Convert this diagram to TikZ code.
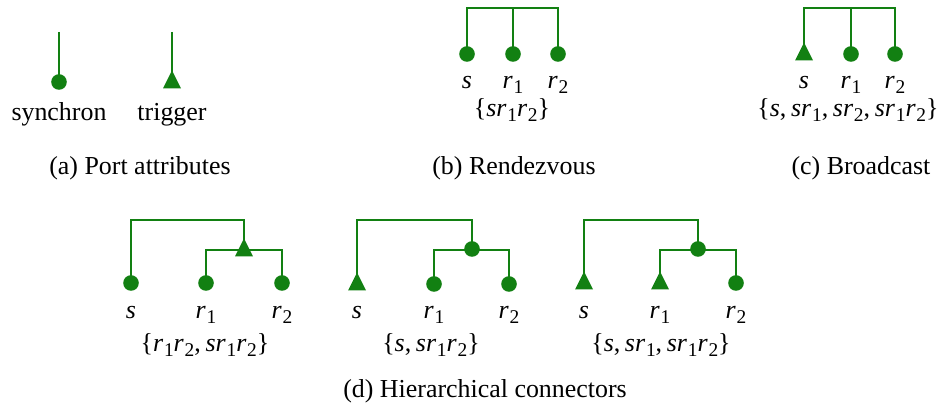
\documentclass[tikz,border=0pt]{standalone}
\usepackage{fontspec}
\setmainfont{Liberation Serif}
\definecolor{pgreen}{RGB}{18,128,18}
\newcommand{\vS}{\textit{s}}
\newcommand{\vR}[1]{\textit{r}\kern0.3pt\raisebox{-0.42ex}{\fontsize{7.5}{8}\selectfont #1}}
\newcommand{\cm}{,\kern1.8pt}
\tikzset{
  wire/.style={draw=pgreen, line width=0.75pt},
  lbl/.style={anchor=base, inner sep=0pt, font=\fontsize{10}{12}\selectfont},
  syncdot/.pic={\fill[pgreen] (0,0) circle[radius=7.8];},
  trigtri/.pic={\fill[pgreen] (-9,6.5) -- (9,6.5) -- (0,-11.5) -- cycle;}
}
\begin{document}
\begin{tikzpicture}[x=0.386pt, y=-0.386pt]
\useasboundingbox (0,0) rectangle (943,411);
% ---------- (a)
\coordinate (a1t) at (59,32);  \coordinate (a1) at (59,82);
\coordinate (a2t) at (172,32); \coordinate (a2) at (172,82);
\draw[wire] (a1t) -- (a1);
\draw[wire] (a2t) -- (a2);
\pic at (a1) {syncdot};
\pic at (a2) {trigtri};
\node[lbl] (la1) at (59,120.5) {synchron};
\node[lbl] (la2) at (172,120.5) {trigger};
\node[lbl] (capa) at (140,174.5) {(a) Port attributes};
% ---------- (b)
\coordinate (bs) at (467,54); \coordinate (br1) at (513,54); \coordinate (br2) at (558,54);
\coordinate (btop) at (513,8);
\draw[wire] (bs) |- (btop) -| (br2);
\draw[wire] (br1) -- (btop);
\pic at (bs) {syncdot}; \pic at (br1) {syncdot}; \pic at (br2) {syncdot};
\node[lbl] (lbs) at (467,89) {\vS};
\node[lbl] (lbr1) at (513,89) {\vR{1}};
\node[lbl] (lbr2) at (558,89) {\vR{2}};
\node[lbl] (setb) at (512,117) {\{\vS\vR{1}\vR{2}\}};
\node[lbl] (capb) at (514,174.5) {(b) Rendezvous};
% ---------- (c)
\coordinate (cs) at (804,54); \coordinate (cr1) at (851,54); \coordinate (cr2) at (895,54);
\coordinate (ctop) at (851,8);
\draw[wire] (cs) |- (ctop) -| (cr2);
\draw[wire] (cr1) -- (ctop);
\pic at (cs) {trigtri}; \pic at (cr1) {syncdot}; \pic at (cr2) {syncdot};
\node[lbl] (lcs) at (804,89) {\vS};
\node[lbl] (lcr1) at (851,89) {\vR{1}};
\node[lbl] (lcr2) at (895,89) {\vR{2}};
\node[lbl] (setc) at (848,117) {\{\vS\cm\vS\vR{1}\cm\vS\vR{2}\cm\vS\vR{1}\vR{2}\}};
\node[lbl] (capc) at (861,175) {(c) Broadcast};
% ---------- (d1)
\coordinate (ds) at (131,283); \coordinate (dr1) at (206,283); \coordinate (dr2) at (282,283);
\coordinate (dj) at (244,250); \coordinate (dtop) at (244,220);
\draw[wire] (ds) |- (dtop) -- (dj);
\draw[wire] (dr1) |- (dj) -| (dr2);
\pic at (ds) {syncdot}; \pic at (dr1) {syncdot}; \pic at (dr2) {syncdot};
\pic at (dj) {trigtri};
\node[lbl] (lds) at (131,319) {\vS};
\node[lbl] (ldr1) at (206,319) {\vR{1}};
\node[lbl] (ldr2) at (282,319) {\vR{2}};
\node[lbl] (setd1) at (205,352) {\{\vR{1}\vR{2}\cm\vS\vR{1}\vR{2}\}};
% ---------- (d2)
\coordinate (es) at (357,284); \coordinate (er1) at (434,284); \coordinate (er2) at (509,284);
\coordinate (ej) at (472,249); \coordinate (etop) at (472,220); \coordinate (ein) at (472,250);
\draw[wire] (es) |- (etop) -- (ej);
\draw[wire] (er1) |- (ein) -| (er2);
\pic at (es) {trigtri}; \pic at (er1) {syncdot}; \pic at (er2) {syncdot};
\pic at (ej) {syncdot};
\node[lbl] (les) at (357,319) {\vS};
\node[lbl] (ler1) at (434,319) {\vR{1}};
\node[lbl] (ler2) at (509,319) {\vR{2}};
\node[lbl] (setd2) at (431,352) {\{\vS\cm\vS\vR{1}\vR{2}\}};
% ---------- (d3)
\coordinate (fs) at (584,283); \coordinate (fr1) at (660,283); \coordinate (fr2) at (736,283);
\coordinate (fj) at (698,249); \coordinate (ftop) at (698,220); \coordinate (fin) at (698,250);
\draw[wire] (fs) |- (ftop) -- (fj);
\draw[wire] (fr1) |- (fin) -| (fr2);
\pic at (fs) {trigtri}; \pic at (fr1) {trigtri}; \pic at (fr2) {syncdot};
\pic at (fj) {syncdot};
\node[lbl] (lfs) at (584,319) {\vS};
\node[lbl] (lfr1) at (660,319) {\vR{1}};
\node[lbl] (lfr2) at (736,319) {\vR{2}};
\node[lbl] (setd3) at (661,352) {\{\vS\cm\vS\vR{1}\cm\vS\vR{1}\vR{2}\}};
\node[lbl] (capd) at (485,398) {(d) Hierarchical connectors};
\end{tikzpicture}
\end{document}
